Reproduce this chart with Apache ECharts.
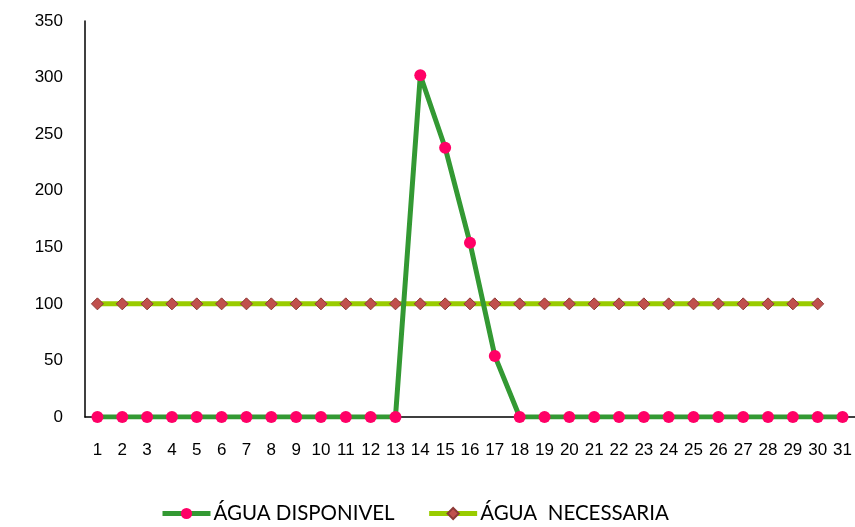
<!DOCTYPE html>
<html><head><meta charset="utf-8">
<script src="https://cdn.jsdelivr.net/npm/echarts@6/dist/echarts.min.js"></script>
<style>html,body{margin:0;padding:0;background:#fff}#c{width:855px;height:527px}</style>
</head><body><div id="c"></div>
<script>
const categories = ['1','2','3','4','5','6','7','8','9','10','11','12','13','14','15','16','17','18','19','20','21','22','23','24','25','26','27','28','29','30','31'];
const aguaDisponivel = [0,0,0,0,0,0,0,0,0,0,0,0,0,302,238,154,54,0,0,0,0,0,0,0,0,0,0,0,0,0,0];
const aguaNecessaria = [100,100,100,100,100,100,100,100,100,100,100,100,100,100,100,100,100,100,100,100,100,100,100,100,100,100,100,100,100,100,null];
const seriesNames = ['ÁGUA DISPONIVEL', 'ÁGUA  NECESSARIA'];

const chart = echarts.init(document.getElementById('c'));
chart.setOption({
  animation: false,
  grid: {left: 85, right: 0, top: 21, bottom: 110},
  legend: {
    bottom: -2, left: 155, itemGap: 32, itemWidth: 48, itemHeight: 14,
    lineStyle: {width: 5},
    textStyle: {fontFamily: 'Lato, "Open Sans", sans-serif', fontSize: 20.5, color: '#000', padding: [0,0,0,-2]},
    data: seriesNames
  },
  xAxis: {
    type: 'category', data: categories, boundaryGap: true,
    axisLine: {lineStyle: {color: '#000', width: 1.5}},
    axisTick: {show: false},
    axisLabel: {color: '#000', fontSize: 17, fontFamily: '"Liberation Sans", Arial, sans-serif', margin: 25, interval: 0}
  },
  yAxis: {
    type: 'value', min: 0, max: 350, interval: 50,
    axisLine: {show: true, lineStyle: {color: '#000', width: 1.5}},
    axisTick: {show: false},
    splitLine: {show: false},
    axisLabel: {color: '#000', fontSize: 17, fontFamily: '"Liberation Sans", Arial, sans-serif', margin: 22}
  },
  series: [
    {
      name: seriesNames[1], type: 'line', data: aguaNecessaria,
      symbol: 'diamond', symbolSize: 12,
      lineStyle: {color: '#99cc00', width: 5},
      itemStyle: {color: '#c0504d', borderColor: '#8c3836', borderWidth: 1},
      z: 2
    },
    {
      name: seriesNames[0], type: 'line', data: aguaDisponivel,
      symbol: 'circle', symbolSize: 12,
      lineStyle: {color: '#339933', width: 5},
      itemStyle: {color: '#ff0066', borderColor: '#ff0066', borderWidth: 0},
      z: 3
    }
  ]
});
</script></body></html>
